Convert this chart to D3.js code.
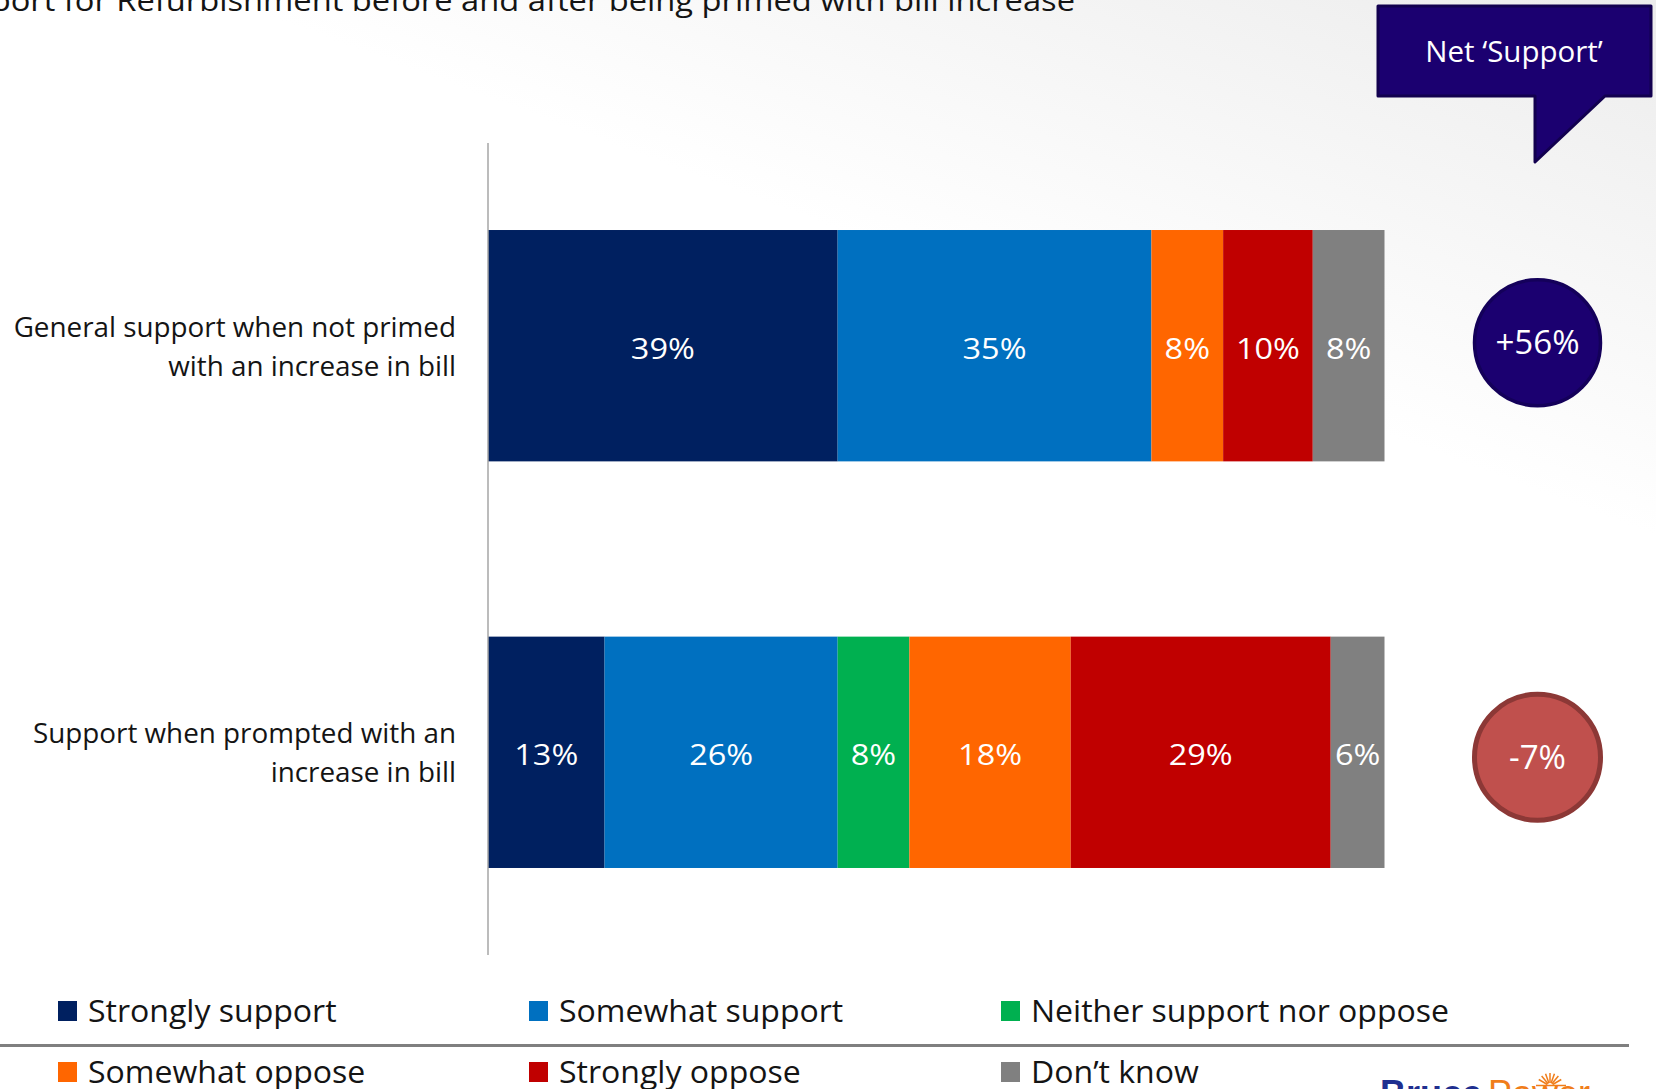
<!DOCTYPE html>
<html>
<head>
<meta charset="utf-8">
<script src="https://cdn.jsdelivr.net/npm/d3@7"></script>
<style>
  html, body { margin: 0; padding: 0; background: #fff; }
  svg { display: block; font-family: "Open Sans", "DejaVu Sans", sans-serif; }
</style>
</head>
<body>
<svg id="chart" width="1656" height="1089"></svg>
<script>
// Survey responses (percent of respondents)
const categories = [
  "General support when not primed|with an increase in bill",
  "Support when prompted with an|increase in bill"
];
const responseKeys = ["strongly", "somewhat", "neither", "someOppose", "stronglyOppose", "dontKnow"];
const responseLabels = ["Strongly support", "Somewhat support", "Neither support nor oppose",
                        "Somewhat oppose", "Strongly oppose", "Don\u2019t know"];
const responseColors = ["#002060", "#0070C0", "#00B050", "#FF6600", "#C00000", "#808080"];
const stronglySupport = [39, 13];
const somewhatSupport = [35, 26];
const neitherSupport  = [0, 8];
const somewhatOppose  = [8, 18];
const stronglyOppose  = [10, 29];
const dontKnow        = [8, 6];
const netSupport      = [56, -7];
const titleText = "Support for Refurbishment before and after being primed with bill increase";

const rows = categories.map((c, i) => ({
  category: c,
  strongly: stronglySupport[i],
  somewhat: somewhatSupport[i],
  neither: neitherSupport[i],
  someOppose: somewhatOppose[i],
  stronglyOppose: stronglyOppose[i],
  dontKnow: dontKnow[i],
  net: netSupport[i]
}));

const svg = d3.select("#chart");

// Text helper: slide text is set slightly wide, so each label gets a horizontal stretch
function wideText(parent, x, y, sx, opts) {
  const g = parent.append("g").attr("transform", `translate(${x},${y}) scale(${sx},1)`);
  const t = g.append("text")
    .attr("x", 0).attr("y", 0)
    .attr("text-anchor", opts.anchor || "start")
    .attr("font-size", opts.size)
    .attr("fill", opts.fill || "#141414");
  if (opts.text !== undefined) t.text(opts.text);
  return t;
}

// Soft grey wash across the top of the slide
const defs = svg.append("defs");
const grad = defs.append("linearGradient").attr("id", "bg")
  .attr("gradientUnits", "userSpaceOnUse")
  .attr("x1", 1656).attr("y1", 0).attr("x2", 1480).attr("y2", 470);
grad.append("stop").attr("offset", 0).attr("stop-color", "#ececec");
grad.append("stop").attr("offset", 1).attr("stop-color", "#ffffff");
svg.append("rect").attr("width", 1656).attr("height", 1089).attr("fill", "url(#bg)");

// Title (runs off the top-left edge of the slide)
wideText(svg, 1075, 11, 1.09, { anchor: "end", size: 30, text: titleText });

const x = d3.scaleLinear().domain([0, 100]).range([488, 1384.5]);
const y = d3.scaleBand().domain(categories).range([143, 955])
  .paddingInner(0.431).paddingOuter(0.214);
const color = d3.scaleOrdinal().domain(responseKeys).range(responseColors);

const series = d3.stack().keys(responseKeys)(rows);

// Stacked bars
const layer = svg.append("g").selectAll("g")
  .data(series).join("g")
  .attr("fill", d => color(d.key));

layer.selectAll("rect")
  .data(d => d)
  .join("rect")
  .attr("x", s => x(s[0]))
  .attr("y", s => y(s.data.category))
  .attr("width", s => x(s[1]) - x(s[0]))
  .attr("height", y.bandwidth());

// Segment value labels
const valueLayer = svg.append("g");
series.forEach(sr => {
  sr.filter(s => s[1] - s[0] > 0).forEach(s => {
    wideText(valueLayer, (x(s[0]) + x(s[1])) / 2, y(s.data.category) + y.bandwidth() / 2 + 13, 1.1,
      { anchor: "middle", size: 29.5, fill: "#ffffff", text: (s[1] - s[0]) + "%" });
  });
});

// Vertical category axis line
svg.append("line")
  .attr("x1", x(0)).attr("x2", x(0))
  .attr("y1", y.range()[0]).attr("y2", y.range()[1])
  .attr("stroke", "#a6a6a6").attr("stroke-width", 1.5);

// Category labels, two lines each, right aligned
const catLayer = svg.append("g");
categories.forEach(c => {
  const cy = y(c) + y.bandwidth() / 2;
  const t = wideText(catLayer, 456, cy - 9, 1.05, { anchor: "end", size: 26.5 });
  t.selectAll("tspan").data(c.split("|")).join("tspan")
    .attr("x", 0)
    .attr("y", (l, i) => i * 39)
    .text(l => l);
});

// Net support callout
svg.append("path")
  .attr("d", "M1378,6 H1651 V96 H1605 L1535,162 V96 H1378 Z")
  .attr("fill", "#1B0070").attr("stroke", "#12004f").attr("stroke-width", 3)
  .attr("stroke-linejoin", "round");
wideText(svg, 1514, 62, 1.0, { anchor: "middle", size: 29.5, fill: "#ffffff", text: "Net \u2018Support\u2019" });

// Net support circles
const circleShift = [-3, 5];
rows.forEach((d, i) => {
  const cy = y(d.category) + y.bandwidth() / 2 + circleShift[i];
  const pos = d.net >= 0;
  svg.append("circle")
    .attr("cx", 1537.5).attr("cy", cy).attr("r", 63)
    .attr("fill", pos ? "#1B0070" : "#C0504D")
    .attr("stroke", pos ? "#14005a" : "#8c3836")
    .attr("stroke-width", pos ? 3.5 : 5);
  wideText(svg, 1537.5, cy + 11.5, 1.02,
    { anchor: "middle", size: 32.5, fill: "#ffffff", text: (d.net > 0 ? "+" : "") + d.net + "%" });
});

// Legend
const legendX = [58, 529, 1001];
const legendY = [1011, 1072];
responseKeys.forEach((k, i) => {
  const lx = legendX[i % 3], ly = legendY[Math.floor(i / 3)];
  svg.append("rect")
    .attr("x", lx).attr("y", ly - 10).attr("width", 19).attr("height", 20)
    .attr("fill", color(k));
  wideText(svg, lx + 30, ly + 11, 1.05, { size: 30.5, text: responseLabels[i] });
});

// Footer rule
svg.append("line")
  .attr("x1", 0).attr("x2", 1629).attr("y1", 1045.5).attr("y2", 1045.5)
  .attr("stroke", "#7f7f7f").attr("stroke-width", 3);

// Company logo peeking in at the bottom edge
const logo = svg.append("g");
logo.append("text")
  .attr("x", 1380).attr("y", 1106)
  .attr("font-size", 36).attr("font-weight", "bold")
  .attr("font-family", "Liberation Sans, Arial, sans-serif")
  .attr("fill", "#1f2f8f")
  .text("Bruce")
  .append("tspan").attr("fill", "#f07d1a").attr("font-weight", "normal").attr("dx", 6).text("Power");
const rays = logo.append("g").attr("stroke", "#f07d1a").attr("stroke-width", 1.5);
d3.range(-60, 61, 20).forEach(a => {
  const r = a * Math.PI / 180;
  rays.append("line")
    .attr("x1", 1550 + Math.sin(r) * 3).attr("y1", 1086 - Math.cos(r) * 3)
    .attr("x2", 1550 + Math.sin(r) * 13).attr("y2", 1086 - Math.cos(r) * 13);
});
rays.append("line").attr("x1", 1536).attr("x2", 1566).attr("y1", 1085.5).attr("y2", 1085.5);
</script>
</body>
</html>
